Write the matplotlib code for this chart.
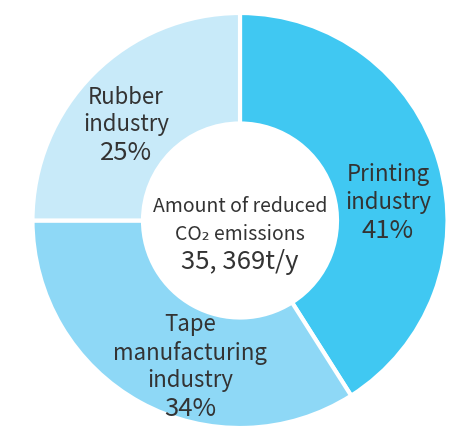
import matplotlib.pyplot as plt

plt.rcParams['font.family'] = ['Noto Sans CJK JP', 'DejaVu Sans']

industries = [["Printing", "industry"], ["Tape", "manufacturing", "industry"], ["Rubber", "industry"]]
shares = [41, 34, 25]
colors = ["#40C8F2", "#8ED8F6", "#C8EAF9"]
center_lines = ["Amount of reduced", "CO₂ emissions", "35, 369t/y"]

fig = plt.figure(figsize=(4.62, 4.30), dpi=100, facecolor='white')
ax = fig.add_axes([0, 0, 1, 1])

cx, cy, r = 240, 430 - 220.5, 207.5
ax.pie(shares, colors=colors, startangle=90, counterclock=False,
       center=(cx, cy), radius=r, frame=True,
       wedgeprops=dict(width=r - 97, edgecolor='white', linewidth=3))
ax.set_xlim(0, 462)
ax.set_ylim(0, 430)
ax.set_aspect('equal')
ax.axis('off')

# label anchor: x centre and y of first line (pixels from top)
label_pos = [(388, 175), (190, 325), (126, 97)]
step = 28
for lines, val, (x, y) in zip(industries, shares, label_pos):
    for i, s in enumerate(lines):
        ax.text(x, 430 - (y + i * step), s, ha='center', va='center',
                fontsize=16, color='#333333')
    ax.text(x, 430 - (y + len(lines) * step), str(val) + "%", ha='center', va='center',
            fontsize=18.5, color='#333333')

ax.text(cx, 430 - 207, center_lines[0], ha='center', va='center', fontsize=14, color='#333333')
ax.text(cx, 430 - 234, center_lines[1], ha='center', va='center', fontsize=14, color='#333333')
ax.text(cx, 430 - 262, center_lines[2], ha='center', va='center', fontsize=18.5, color='#333333')

plt.savefig('out.png', dpi=100, facecolor='white')
